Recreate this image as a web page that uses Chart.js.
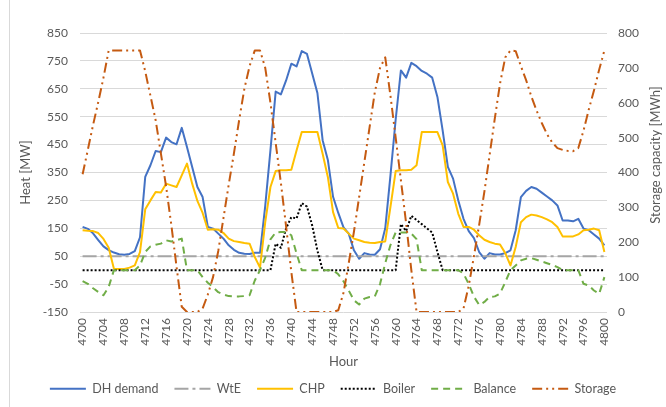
<!DOCTYPE html>
<html>
<head>
<meta charset="utf-8">
<script src="https://cdn.jsdelivr.net/npm/chart.js@4.4.0/dist/chart.umd.min.js"></script>
<style>
    html, body { margin: 0; padding: 0; background: #fff; }
    #wrap { position: relative; width: 666px; height: 407px; }
    #edge { position: absolute; left: 9px; top: 0; width: 1px; height: 407px; background: #d9d9d9; }
</style>
</head>
<body>
<div id="wrap"><div id="edge"></div><canvas id="chart" width="666" height="407"></canvas></div>
<script>
// hours 4700..4800
const hours = [
    4700, 4701, 4702, 4703, 4704, 4705, 4706, 4707, 4708, 4709, 4710, 4711, 4712, 4713, 4714, 4715, 4716, 4717, 4718, 4719,
    4720, 4721, 4722, 4723, 4724, 4725, 4726, 4727, 4728, 4729, 4730, 4731, 4732, 4733, 4734, 4735, 4736, 4737, 4738, 4739,
    4740, 4741, 4742, 4743, 4744, 4745, 4746, 4747, 4748, 4749, 4750, 4751, 4752, 4753, 4754, 4755, 4756, 4757, 4758, 4759,
    4760, 4761, 4762, 4763, 4764, 4765, 4766, 4767, 4768, 4769, 4770, 4771, 4772, 4773, 4774, 4775, 4776, 4777, 4778, 4779,
    4780, 4781, 4782, 4783, 4784, 4785, 4786, 4787, 4788, 4789, 4790, 4791, 4792, 4793, 4794, 4795, 4796, 4797, 4798, 4799,
    4800
];

const dhDemand = [
    155, 148, 132, 108, 85, 72, 63, 57, 55, 58, 68, 118, 334, 376, 427, 423, 475, 459, 451, 510,
    441, 370, 298, 262, 155, 149, 131, 113, 89, 73, 62, 59, 58, 62, 62, 230, 430, 640, 630, 680,
    740, 730, 785, 775, 705, 635, 466, 395, 263, 205, 153, 131, 71, 41, 61, 56, 55, 75, 150, 340,
    540, 716, 690, 743, 731, 714, 704, 690, 621, 501, 370, 328, 250, 184, 140, 115, 65, 41, 61, 56,
    56, 61, 71, 143, 262, 284, 298, 292, 278, 264, 250, 232, 178, 178, 175, 184, 149, 143, 128, 113,
    89
];

const wte = [
    50, 50, 50, 50, 50, 50, 50, 50, 50, 50, 50, 50, 50, 50, 50, 50, 50, 50, 50, 50,
    50, 50, 50, 50, 50, 50, 50, 50, 50, 50, 50, 50, 50, 50, 50, 50, 50, 50, 50, 50,
    50, 50, 50, 50, 50, 50, 50, 50, 50, 50, 50, 50, 50, 50, 50, 50, 50, 50, 50, 50,
    50, 50, 50, 50, 50, 50, 50, 50, 50, 50, 50, 50, 50, 50, 50, 50, 50, 50, 50, 50,
    50, 50, 50, 50, 50, 50, 50, 50, 50, 50, 50, 50, 50, 50, 50, 50, 50, 50, 50, 50,
    50
];

const chp = [
    143, 141, 140, 133, 112, 80, 5, 4, 4, 9, 17, 65, 218, 250, 280, 278, 310, 304, 298, 340,
    382, 310, 248, 205, 145, 147, 145, 133, 113, 104, 101, 97, 95, 47, 9, 172, 298, 355, 358, 358,
    360, 429, 495, 495, 495, 495, 417, 334, 208, 151, 149, 131, 113, 107, 101, 98, 97, 101, 103, 227,
    355, 358, 358, 360, 376, 495, 495, 495, 495, 447, 316, 274, 202, 155, 155, 145, 125, 109, 101, 95,
    92, 61, 17, 83, 172, 190, 199, 196, 190, 182, 172, 155, 121, 121, 121, 128, 143, 145, 149, 143,
    65
];

const boiler = [
    0, 0, 0, 0, 0, 0, 0, 0, 0, 0, 0, 0, 0, 0, 0, 0, 0, 0, 0, 0,
    0, 0, 0, 0, 0, 0, 0, 0, 0, 0, 0, 0, 0, 0, 0, 0, 0, 95, 80, 150,
    190, 185, 240, 228, 160, 70, 0, 0, 0, 0, 0, 0, 0, 0, 0, 0, 0, 0, 0, 0,
    0, 165, 140, 195, 180, 165, 150, 135, 65, 0, 0, 0, 0, 0, 0, 0, 0, 0, 0, 0,
    0, 0, 0, 0, 0, 0, 0, 0, 0, 0, 0, 0, 0, 0, 0, 0, 0, 0, 0, 0,
    0
];

const balance = [
    -39, -49, -65, -78, -90, -60, 0, 0, 0, 0, 0, 17, 65, 85, 91, 95, 107, 103, 107, 113,
    0, 0, 0, -25, -45, -61, -79, -87, -93, -94, -94, -93, -90, -37, 0, 45, 110, 135, 137, 137,
    125, 60, 0, 0, 0, 0, 0, 0, 0, -15, -40, -73, -108, -123, -102, -96, -94, -50, 25, 90,
    135, 135, 135, 131, 111, 0, 0, 0, 0, 0, 0, 0, 0, -12, -50, -95, -125, -114, -96, -94,
    -84, -43, 0, 17, 35, 41, 43, 37, 31, 25, 19, 11, 0, 0, 0, 0, -49, -55, -73, -85,
    -25
];

const storage = [
    395, 465, 536, 602, 672, 750, 750, 750, 750, 750, 750, 750, 690, 620, 550, 455, 360, 250, 130, 15,
    0, 0, 0, 10, 50, 100, 175, 270, 365, 455, 550, 640, 705, 750, 750, 700, 600, 485, 370, 245,
    115, 0, 0, 0, 0, 0, 0, 0, 0, 5, 55, 140, 230, 330, 430, 530, 630, 700, 730, 620,
    500, 378, 255, 120, 0, 0, 0, 0, 0, 0, 0, 0, 0, 10, 75, 160, 250, 345, 450, 555,
    655, 730, 750, 748, 705, 665, 618, 578, 542, 510, 486, 470, 465, 462, 461, 470, 520, 580, 635, 695,
    750
];

const heatTicks = { min: -150, max: 850, step: 100 };
const storageTicks = { min: 0, max: 800, step: 100 };

const FONT = "Lato";
const GREY = "#595959";

function series(label, data, color, dash, order, axis) {
    return {
        label, data, order,
        yAxisID: axis || "y",
        borderColor: color, backgroundColor: color,
        borderWidth: 2, borderDash: dash,
        borderJoinStyle: "round",
        pointRadius: 0, pointHoverRadius: 0, pointStyle: "line",
        tension: 0, fill: false,
    };
}

// Excel reads the secondary title bottom-to-top, Chart.js the other way
const rightTitle = {
    id: "rightTitle",
    afterDraw(chart) {
        const ctx = chart.ctx;
        ctx.save();
        ctx.translate(656, 155);
        ctx.rotate(-Math.PI / 2);
        ctx.font = `13px ${FONT}`;
        ctx.fillStyle = GREY;
        ctx.textAlign = "center";
        ctx.textBaseline = "middle";
        ctx.fillText("Storage capacity [MWh]", 0, 0);
        ctx.restore();
    },
};

// legend: 12.5px text + 16px padding + 10 -> 38.5px tall
const LEGEND_H = 38.5;

// point-style legend items lose the dataset dash, put it back
function legendLabels(chart) {
    const items = Chart.defaults.plugins.legend.labels.generateLabels(chart);
    items.forEach((it) => {
        const ds = chart.data.datasets[it.datasetIndex];
        it.lineDash = ds.borderDash;
        it.strokeStyle = ds.borderColor;
        it.lineWidth = 2;
    });
    return items;
}

new Chart(document.getElementById("chart"), {
    type: "line",
    data: {
        labels: hours,
        datasets: [
            series("DH demand", dhDemand, "#4472C4", [], 6),
            series("WtE", wte, "#A5A5A5", [14, 4, 3, 4], 5),
            series("CHP", chp, "#FFC000", [], 4),
            series("Boiler", boiler, "#000000", [2, 2], 3),
            series("Balance", balance, "#70AD47", [7, 5], 2),
            series("Storage", storage, "#C55A11", [10, 4, 2, 4, 2, 4], 1, "y1"),
        ],
    },
    options: {
        responsive: false,
        animation: false,
        layout: { padding: { top: 33, left: 0, right: 0, bottom: 2 } },
        plugins: {
            tooltip: { enabled: false },
            legend: {
                position: "bottom",
                labels: {
                    font: { family: FONT, size: 12.5 }, color: GREY,
                    usePointStyle: true, pointStyleWidth: 36, padding: 16,
                    generateLabels: legendLabels,
                    sort: (a, b) => a.datasetIndex - b.datasetIndex,
                },
            },
        },
        scales: {
            x: {
                type: "category",
                offset: true,
                grid: { display: false, drawTicks: false },
                border: { display: false },
                ticks: {
                    autoSkip: false, minRotation: 90, maxRotation: 90, padding: 6,
                    font: { family: FONT, size: 12 }, color: GREY,
                    callback: (v, i) => (hours[i] % 4 === 0 ? String(hours[i]) : ""),
                },
                title: { display: true, text: "Hour", font: { family: FONT, size: 13 }, color: GREY, padding: { top: 0, bottom: -3 } },
                afterFit: (s) => { s.height = 407 - 2 - LEGEND_H - 312; },
            },
            y: {
                position: "left",
                min: heatTicks.min, max: heatTicks.max,
                grid: { color: "#D9D9D9", lineWidth: 1, drawTicks: false },
                border: { display: false },
                ticks: { stepSize: heatTicks.step, padding: 12, font: { family: FONT, size: 12 }, color: GREY },
                title: { display: true, text: "Heat [MW]", font: { family: FONT, size: 13 }, color: GREY, padding: { top: 18, bottom: 0 } },
                afterFit: (s) => { s.width = 80; },
            },
            y1: {
                position: "right",
                min: storageTicks.min, max: storageTicks.max,
                grid: { display: false, drawTicks: false },
                border: { display: false },
                ticks: { stepSize: storageTicks.step, padding: 11, font: { family: FONT, size: 12 }, color: GREY },
                afterFit: (s) => { s.width = 59; },
            },
        },
    },
    plugins: [rightTitle],
});
</script>
</body>
</html>
